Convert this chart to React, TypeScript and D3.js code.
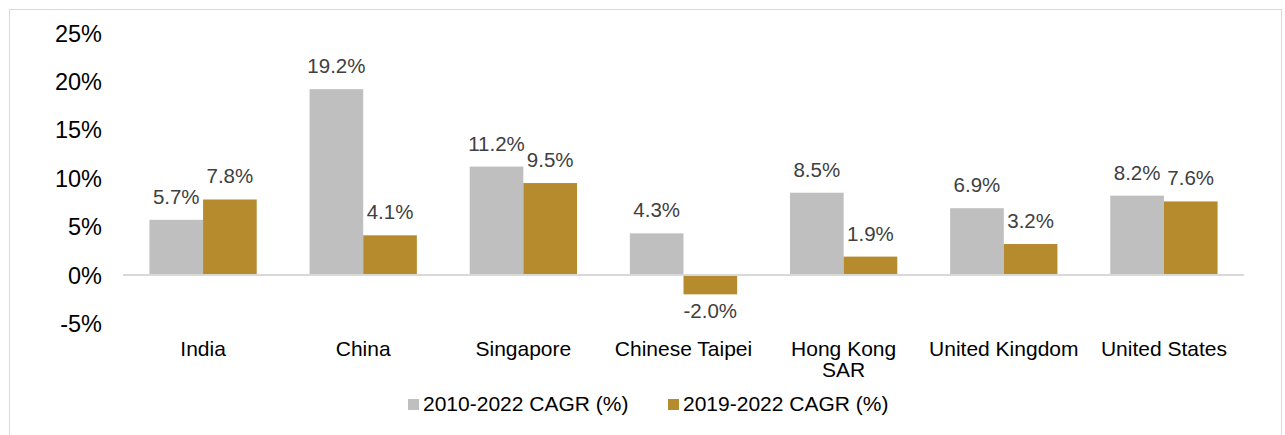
import * as d3 from 'd3'
import { useEffect, useRef } from 'react'

const categories = ['India', 'China', 'Singapore', 'Chinese Taipei', 'Hong Kong SAR', 'United Kingdom', 'United States']
const series2010 = [5.7, 19.2, 11.2, 4.3, 8.5, 6.9, 8.2]
const series2019 = [7.8, 4.1, 9.5, -2.0, 1.9, 3.2, 7.6]
const seriesNames = ['2010-2022 CAGR (%)', '2019-2022 CAGR (%)']
const yTicks = [-5, 0, 5, 10, 15, 20, 25]

export default function App() {
    const svgRef = useRef<SVGSVGElement>(null)

    useEffect(() => {
        makeChart()
    }, [])

    function makeChart() {
        const width = 1285
        const height = 435
        const font = 'Arial, "Liberation Sans", sans-serif'
        const colors = ['#BFBFBF', '#B58B2E']

        const svg = d3.select(svgRef.current).attr('width', width).attr('height', height)
        svg.selectAll('*').remove()

        svg.append('rect')
            .attr('x', 9.5).attr('y', 9.5)
            .attr('width', 1272).attr('height', 440)
            .attr('fill', 'white').attr('stroke', '#D9D9D9')

        const xScale = d3.scaleBand().domain(categories).range([123, 1244]).paddingInner(0.33).paddingOuter(0.165)
        const yScale = d3.scaleLinear().domain([-5, 25]).range([323.4, 33])
        const inner = d3.scaleBand().domain(['a', 'b']).range([0, xScale.bandwidth()])

        // y tick labels
        svg.append('g').selectAll('text')
            .data(yTicks)
            .enter()
            .append('text')
            .attr('x', 102)
            .attr('y', d => yScale(d) + 8.5)
            .attr('text-anchor', 'end')
            .attr('font-family', font)
            .attr('font-size', 23.5)
            .attr('fill', '#000')
            .text(d => `${d}%`)

        const rows = categories.map((c, i) => ({ c, vals: [series2010[i], series2019[i]] }))

        const groups = svg.append('g').selectAll('g')
            .data(rows)
            .enter()
            .append('g')
            .attr('transform', d => `translate(${xScale(d.c)}, 0)`)

        ;['a', 'b'].forEach((key, k) => {
            groups.append('rect')
                .attr('x', inner(key)!)
                .attr('width', inner.bandwidth())
                .attr('y', d => yScale(Math.max(0, d.vals[k])))
                .attr('height', d => Math.abs(yScale(d.vals[k]) - yScale(0)))
                .attr('fill', colors[k])

            groups.append('text')
                .attr('x', inner(key)! + inner.bandwidth() / 2)
                .attr('y', d => d.vals[k] >= 0 ? yScale(d.vals[k]) - 16 : yScale(d.vals[k]) + 24)
                .attr('text-anchor', 'middle')
                .attr('font-family', font)
                .attr('font-size', 20.5)
                .attr('fill', '#404040')
                .text(d => `${d.vals[k].toFixed(1)}%`)
        })

        // zero line
        svg.append('line')
            .attr('x1', 123).attr('x2', 1244)
            .attr('y1', yScale(0)).attr('y2', yScale(0))
            .attr('stroke', '#D9D9D9').attr('stroke-width', 2)

        // category labels
        const catLabels = svg.append('g').selectAll('text')
            .data(categories)
            .enter()
            .append('text')
            .attr('x', d => xScale(d)! + xScale.bandwidth() / 2)
            .attr('y', 356)
            .attr('text-anchor', 'middle')
            .attr('font-family', font)
            .attr('font-size', 21)
            .attr('fill', '#000')

        catLabels.each(function (d) {
            const lines = d === 'Hong Kong SAR' ? ['Hong Kong', 'SAR'] : [d]
            const t = d3.select(this)
            lines.forEach((l, i) => {
                t.append('tspan')
                    .attr('x', xScale(d)! + xScale.bandwidth() / 2)
                    .attr('dy', i === 0 ? 0 : 21)
                    .text(l)
            })
        })

        // legend
        const legendX = [408, 668]
        const legend = svg.append('g').selectAll('g')
            .data(seriesNames)
            .enter()
            .append('g')
            .attr('transform', (_, i) => `translate(${legendX[i]}, 0)`)

        legend.append('rect')
            .attr('x', 0).attr('y', 399)
            .attr('width', 11).attr('height', 11)
            .attr('fill', (_, i) => colors[i])

        legend.append('text')
            .attr('x', 15).attr('y', 411)
            .attr('font-family', font)
            .attr('font-size', 21)
            .attr('fill', '#000')
            .text(d => d)
    }

    return (
        <svg ref={svgRef} style={{ position: 'absolute', left: 0, top: 0 }}></svg>
    )
}
